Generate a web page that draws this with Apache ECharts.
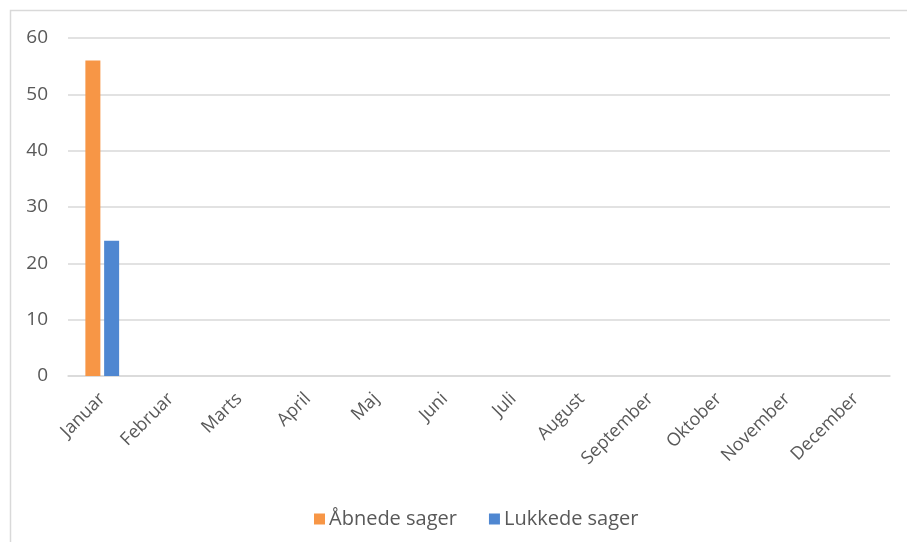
<!DOCTYPE html>
<html><head><meta charset="utf-8">
<script src="https://cdn.jsdelivr.net/npm/echarts@6/dist/echarts.min.js"></script>
<style>html,body{margin:0;padding:0;background:#fff}#c{width:907px;height:542px}</style>
</head><body><div id="c"></div>
<script>
const categories = ['Januar','Februar','Marts','April','Maj','Juni','Juli','August','September','Oktober','November','December'];
const opened = [56, null, null, null, null, null, null, null, null, null, null, null];
const closed = [24, null, null, null, null, null, null, null, null, null, null, null];
const seriesNames = ['Åbnede sager', 'Lukkede sager'];
const chart = echarts.init(document.getElementById('c'), null, {renderer:'canvas'});
const font = "'Open Sans', 'Noto Sans', sans-serif";
chart.setOption({
  animation: false,
  textStyle: {fontFamily: font},
  graphic: [{type:'rect', shape:{x:10.5, y:10.5, width:1000, height:1000}, style:{fill:null, stroke:'#d9d9d9', lineWidth:1.5}, silent:true, z:-1}],
  grid: {left: 68, right: 17, top: 38, bottom: 166},
  legend: {bottom: 8, left: 309, itemWidth: 11, itemHeight: 11, itemGap: 32, icon: 'rect',
    textStyle: {color: '#595959', fontSize: 20, fontFamily: font, padding: [0, 0, 0, -1]}, data: seriesNames},
  xAxis: {type: 'category', data: categories,
    axisLine: {lineStyle: {color: '#d9d9d9', width: 1.5}}, axisTick: {show: false},
    axisLabel: {rotate: 45, color: '#595959', fontSize: 18, fontFamily: font, interval: 0, margin: 20}},
  yAxis: {type: 'value', min: 0, max: 60, interval: 10,
    axisLine: {show: false}, axisTick: {show: false},
    splitLine: {lineStyle: {color: '#d9d9d9', width: 1.5}},
    axisLabel: {color: '#595959', fontSize: 19, fontFamily: font, margin: 20}},
  series: [
    {name: seriesNames[0], type: 'bar', data: opened, barWidth: 15, barGap: '25%', itemStyle: {color: '#f79646'}},
    {name: seriesNames[1], type: 'bar', data: closed, barWidth: 15, itemStyle: {color: '#4f87d1'}}
  ]
});
</script></body></html>
